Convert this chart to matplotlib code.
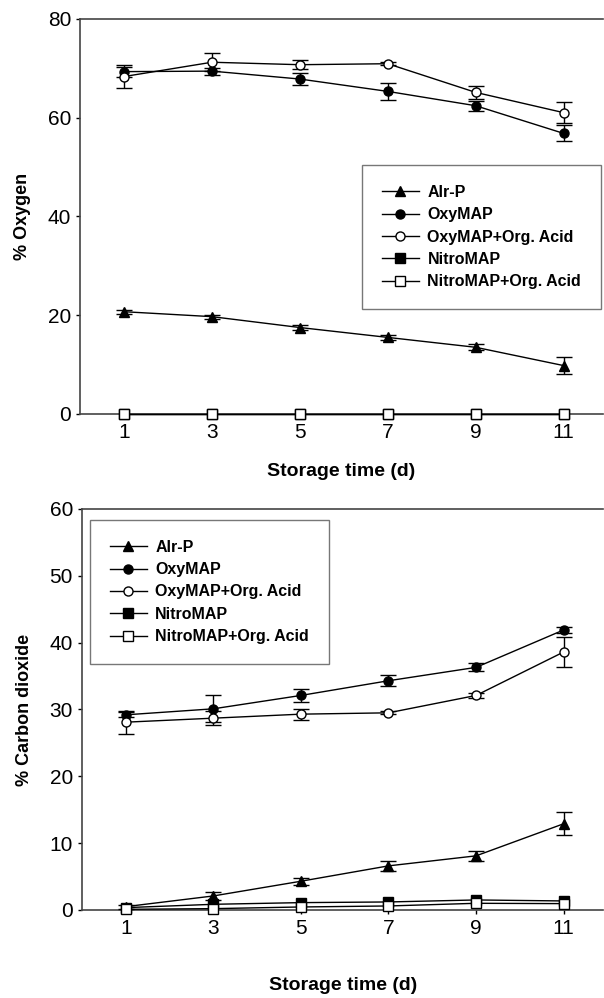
import matplotlib
matplotlib.use("Agg")
import matplotlib.pyplot as plt

plt.rcParams['font.family'] = ['Liberation Sans', 'DejaVu Sans']

days = [1, 3, 5, 7, 9, 11]
labels = ['Alr-P', 'OxyMAP', 'OxyMAP+Org. Acid', 'NitroMAP', 'NitroMAP+Org. Acid']

# % oxygen
o2_air = [20.7, 19.7, 17.5, 15.5, 13.5, 9.8]
o2_air_err = [0.4, 0.4, 0.6, 0.5, 0.6, 1.7]
o2_oxy = [69.3, 69.4, 67.8, 65.3, 62.4, 56.8]
o2_oxy_err = [1.0, 0.7, 1.2, 1.7, 1.0, 1.6]
o2_oxyorg = [68.3, 71.2, 70.7, 70.9, 65.1, 61.0]
o2_oxyorg_err = [2.4, 1.8, 0.9, 0.3, 1.3, 2.1]
o2_nitro = [0, 0, 0, 0, 0, 0]
o2_nitroorg = [0, 0, 0, 0, 0, 0]

# % carbon dioxide
co2_air = [0.5, 2.1, 4.3, 6.6, 8.1, 12.9]
co2_air_err = [0.3, 0.6, 0.5, 0.8, 0.7, 1.7]
co2_oxy = [29.2, 30.1, 32.1, 34.3, 36.3, 41.9]
co2_oxy_err = [0.4, 2.0, 1.0, 0.8, 0.6, 0.4]
co2_oxyorg = [28.1, 28.7, 29.3, 29.5, 32.1, 38.6]
co2_oxyorg_err = [1.7, 1.0, 0.8, 0.2, 0.4, 2.3]
co2_nitro = [0.35, 0.85, 1.1, 1.2, 1.5, 1.35]
co2_nitroorg = [0.1, 0.2, 0.45, 0.6, 1.0, 0.95]

styles = [('^', 'black'), ('o', 'black'), ('o', 'white'), ('s', 'black'), ('s', 'white')]


def draw(ax, series, errs, ymax, ystep, ylabel, legend_anchor):
    handles = []
    for (y, e), lab, (m, fc) in zip(zip(series, errs), labels, styles):
        c = ax.errorbar(days, y, yerr=e, color='black', lw=1, marker=m, mfc=fc,
                        mec='black', ms=7 if m != 'o' else 6.5, capsize=6,
                        elinewidth=1, capthick=1, label=lab, clip_on=False, zorder=3)
        handles.append(c[0])
    ax.set_xlim(0, 11.9)
    ax.set_ylim(0, ymax)
    ax.set_xticks(days)
    ax.set_yticks(range(0, ymax + 1, ystep))
    ax.tick_params(labelsize=15, length=3, width=1, direction='out')
    ax.spines['right'].set_visible(False)
    for s in ['top', 'left', 'bottom']:
        ax.spines[s].set_color('#444444')
        ax.spines[s].set_linewidth(1.2)
    ax.set_ylabel(ylabel, fontsize=13, fontweight='bold', labelpad=12)
    leg = ax.legend(handles, labels, loc='upper left', bbox_to_anchor=legend_anchor,
                    prop={'weight': 'bold', 'size': 11.5},
                    frameon=True, fancybox=False, borderpad=1.25, labelspacing=0.46,
                    handlelength=2.3, handletextpad=0.55, borderaxespad=0)
    leg.get_frame().set_edgecolor('#555555')
    leg.get_frame().set_linewidth(1.0)


fig = plt.figure(figsize=(6.04, 9.98), dpi=100)
ax1 = fig.add_axes([0.1325, 0.5852, 0.866, 0.396])
ax2 = fig.add_axes([0.1358, 0.0882, 0.8626, 0.4018])

draw(ax1, [o2_air, o2_oxy, o2_oxyorg, o2_nitro, o2_nitroorg],
     [o2_air_err, o2_oxy_err, o2_oxyorg_err, None, None],
     80, 20, '% Oxygen', (0.539, 0.630))
draw(ax2, [co2_air, co2_oxy, co2_oxyorg, co2_nitro, co2_nitroorg],
     [co2_air_err, co2_oxy_err, co2_oxyorg_err, None, None],
     60, 10, '% Carbon dioxide', (0.015, 0.973))

fig.text(0.565, 1 - 472 / 998, 'Storage time (d)', ha='center', va='center',
         fontsize=14, fontweight='bold')
fig.text(0.568, 1 - 985 / 998, 'Storage time (d)', ha='center', va='center',
         fontsize=14, fontweight='bold')

fig.savefig('out.png', dpi=100)
